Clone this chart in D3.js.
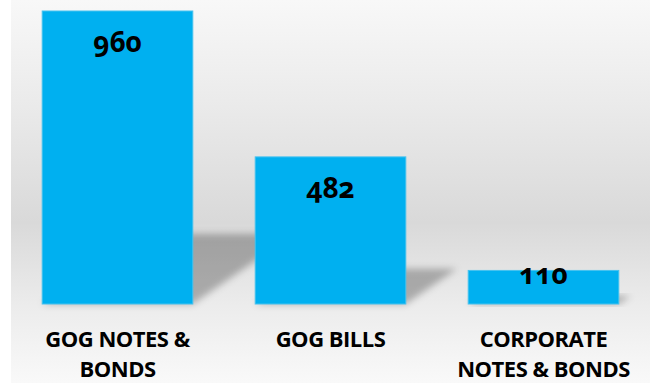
<!DOCTYPE html>
<html><head><meta charset="utf-8">
<script src="https://cdn.jsdelivr.net/npm/d3@7"></script>
<style>
html,body{margin:0;padding:0;background:#fff;}
svg{display:block;}
</style></head>
<body>
<script>
const categories = ["GOG NOTES & BONDS", "GOG BILLS", "CORPORATE NOTES & BONDS"];
const labelLines = [["GOG NOTES &", "BONDS"], ["GOG BILLS"], ["CORPORATE", "NOTES & BONDS"]];
const values = [960, 482, 110];

const W = 650, H = 383;
const svg = d3.select("body").append("svg").attr("width", W).attr("height", H);
const defs = svg.append("defs");

const bg = defs.append("linearGradient").attr("id", "bg").attr("x1", 0).attr("y1", 0).attr("x2", 0).attr("y2", 1);
[[0, "#f8f8f8"], [0.3, "#e9e9e9"], [0.58, "#d9d9d9"], [0.8, "#ececec"], [1, "#f9f9f9"]]
  .forEach(([o, c]) => bg.append("stop").attr("offset", o).attr("stop-color", c));

defs.append("filter").attr("id", "blur").attr("x", "-30%").attr("y", "-30%").attr("width", "160%").attr("height", "160%")
  .append("feGaussianBlur").attr("stdDeviation", 3.5);

svg.append("rect").attr("x", 11).attr("y", 0).attr("width", W - 11).attr("height", H).attr("fill", "url(#bg)");

const x = d3.scaleBand().domain(categories).range([11, 650]).paddingInner(0.293).paddingOuter(0.1465);
const y = d3.scaleLinear().domain([0, 960]).range([304, 11]);

const data = categories.map((c, i) => ({ c, v: values[i], lines: labelLines[i] }));

// perspective shadows
svg.append("g").selectAll("path").data(data).join("path")
  .attr("filter", "url(#blur)")
  .attr("fill", "#000").attr("fill-opacity", 0.27)
  .attr("d", d => {
    const x0 = x(d.c), x1 = x0 + x.bandwidth();
    const h = (y(0) - y(d.v)) * 0.24;
    const dx = h * 1.45;
    const b = y(0);
    return `M${x0},${b}L${x1},${b}L${x1 + dx},${b - h}L${x0 + dx},${b - h}Z`;
  });

svg.append("g").selectAll("rect").data(data).join("rect")
  .attr("x", d => x(d.c)).attr("y", d => y(d.v))
  .attr("width", x.bandwidth()).attr("height", d => y(0) - y(d.v))
  .attr("fill", "#00b0f0").attr("stroke", "#45c2ef").attr("stroke-width", 1);

svg.append("g").selectAll("text").data(data).join("text")
  .attr("x", d => x(d.c) + x.bandwidth() / 2)
  .attr("y", d => Math.min(y(d.v) + 41, y(0) - 20))
  .attr("text-anchor", "middle")
  .attr("font-family", "'Open Sans', sans-serif").attr("font-weight", 700)
  .attr("font-size", 28)
  .style("font-variant-numeric", "oldstyle-nums")
  .attr("fill", "#000")
  .text(d => d.v);

const lab = svg.append("g").selectAll("text").data(data).join("text")
  .attr("text-anchor", "middle")
  .attr("font-family", "'Open Sans', sans-serif").attr("font-weight", 700)
  .attr("font-size", 22).attr("letter-spacing", -0.5)
  .attr("fill", "#000");
lab.selectAll("tspan").data(d => d.lines.map(l => ({ l, cx: x(d.c) + x.bandwidth() / 2 }))).join("tspan")
  .attr("x", t => t.cx).attr("y", (t, i) => 347 + i * 30)
  .text(t => t.l);
</script>
</body></html>
